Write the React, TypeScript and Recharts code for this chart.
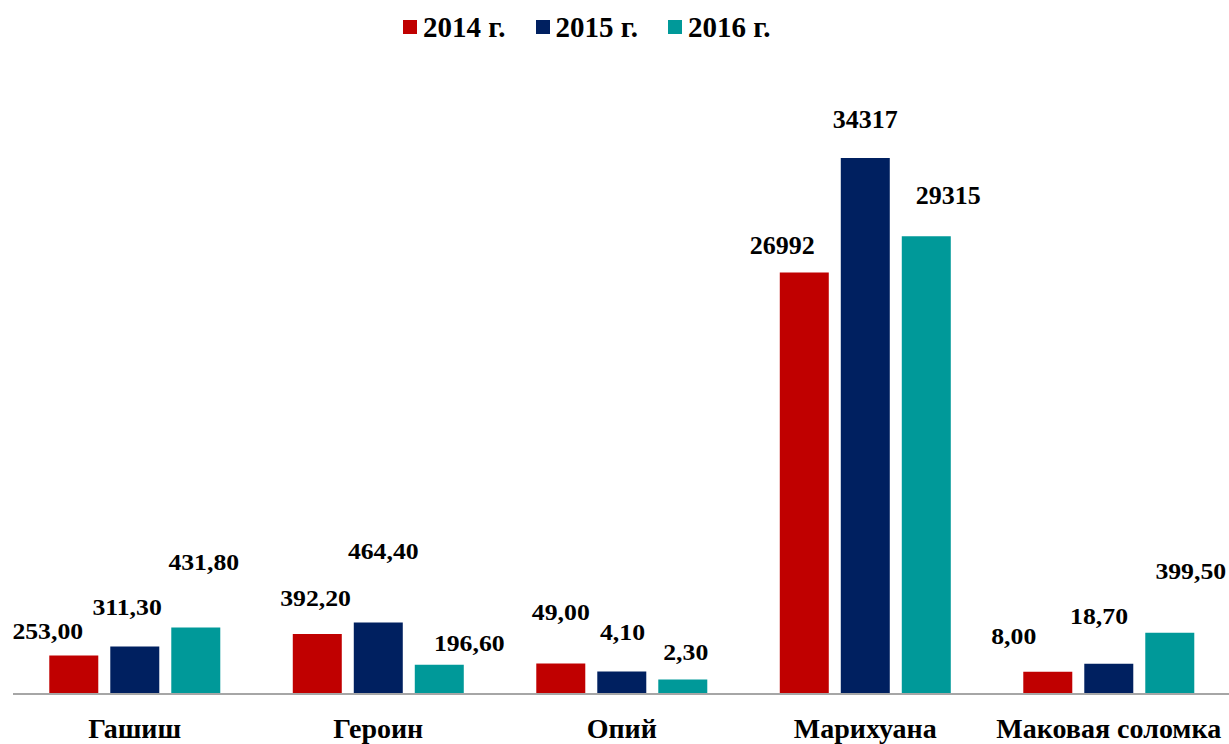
import React from 'react';
import { BarChart, Bar, XAxis, YAxis, Legend } from 'recharts';

const categories = ['Гашиш', 'Героин', 'Опий', 'Марихуана', 'Маковая соломка'];
const seriesNames = ['2014 г.', '2015 г.', '2016 г.'];

// bar heights as drawn in the picture (chart units)
const values2014 = [2472, 3842, 1953, 26992, 1422];
const values2015 = [3048, 4585, 1441, 34317, 1934];
const values2016 = [4265, 1876, 929, 29315, 3919];

// printed value labels
const labels2014 = ['253,00', '392,20', '49,00', '26992', '8,00'];
const labels2015 = ['311,30', '464,40', '4,10', '34317', '18,70'];
const labels2016 = ['431,80', '196,60', '2,30', '29315', '399,50'];

const COLORS = ['#c00000', '#002060', '#009999'];
const FONT = "'Liberation Serif', 'Times New Roman', serif";

// label placement relative to bar: [dx from bar centre, baseline height above bar top]
const labelOffsets = [
  [[-26, 16.7], [-1.7, 27.6], [0, 43.3], [-22, 18], [-34, 27.3]],
  [[-7.7, 31.7], [5, 63.7], [0.7, 31], [0, 30.6], [-9.7, 39.3]],
  [[8, 57.7], [30, 13.3], [3, 19], [22, 32], [21, 54]],
];

const labelTexts = [labels2014, labels2015, labels2016];

const data = categories.map((c, i) => ({
  name: c,
  v2014: values2014[i],
  v2015: values2015[i],
  v2016: values2016[i],
}));

const makeLabel = (s: number) => (props: any) => {
  const { x, y, width, index } = props;
  const [dx, dy] = labelOffsets[s][index];
  const cx = Number(x) + Number(width) / 2 + dx;
  const by = Number(y) - dy;
  const big = index === 3;
  const fs = big ? 26 : 23;
  const sx = big ? 1 : 1.12;
  return (
    <text
      key={`l-${s}-${index}`}
      x={0}
      y={0}
      transform={`translate(${cx} ${by}) scale(${sx} 1)`}
      textAnchor="middle"
      fontFamily={FONT}
      fontWeight="bold"
      fontSize={fs}
      fill="#000"
    >
      {labelTexts[s][index]}
    </text>
  );
};

const CategoryTick = (props: any) => {
  const { x, y, payload } = props;
  return (
    <text
      x={x}
      y={y + 36}
      textAnchor="middle"
      fontFamily={FONT}
      fontWeight="bold"
      fontSize={28}
      fill="#000"
    >
      {payload.value}
    </text>
  );
};

const LegendContent = () => (
  <div style={{ position: 'relative', width: 1229, height: 50 }}>
    {seriesNames.map((n, i) => (
      <div
        key={n}
        style={{
          position: 'absolute',
          left: 403 + i * 132.5,
          top: 0,
          display: 'flex',
          alignItems: 'center',
          height: 50,
        }}
      >
        <div style={{ width: 14, height: 14, background: COLORS[i], marginRight: 6 }} />
        <span
          style={{
            fontFamily: FONT,
            fontWeight: 'bold',
            fontSize: 29,
            lineHeight: '29px',
            color: '#000',
            whiteSpace: 'nowrap',
          }}
        >
          {n}
        </span>
      </div>
    ))}
  </div>
);

export default function App() {
  return (
    <div
      style={{
        position: 'absolute',
        left: 0,
        top: 0,
        width: 1229,
        height: 744,
        overflow: 'hidden',
        background: '#fff',
      }}
    >
      <BarChart
        width={1231}
        height={744}
        data={data}
        margin={{ top: 100.6, right: 0.5, left: 13, bottom: 0 }}
        barCategoryGap="14.9%"
        barGap={12}
      >
        <XAxis
          dataKey="name"
          height={50}
          tickLine={false}
          axisLine={{ stroke: '#a6a6a6', strokeWidth: 2 }}
          tick={<CategoryTick />}
          interval={0}
        />
        <YAxis hide domain={[0, 38000]} />
        <Legend
          verticalAlign="middle"
          layout="horizontal"
          wrapperStyle={{ top: 2, left: 0, width: 1229, height: 50 }}
          content={<LegendContent />}
        />
        <Bar dataKey="v2014" name={seriesNames[0]} fill={COLORS[0]} isAnimationActive={false} label={makeLabel(0)} />
        <Bar dataKey="v2015" name={seriesNames[1]} fill={COLORS[1]} isAnimationActive={false} label={makeLabel(1)} />
        <Bar dataKey="v2016" name={seriesNames[2]} fill={COLORS[2]} isAnimationActive={false} label={makeLabel(2)} />
      </BarChart>
    </div>
  );
}
